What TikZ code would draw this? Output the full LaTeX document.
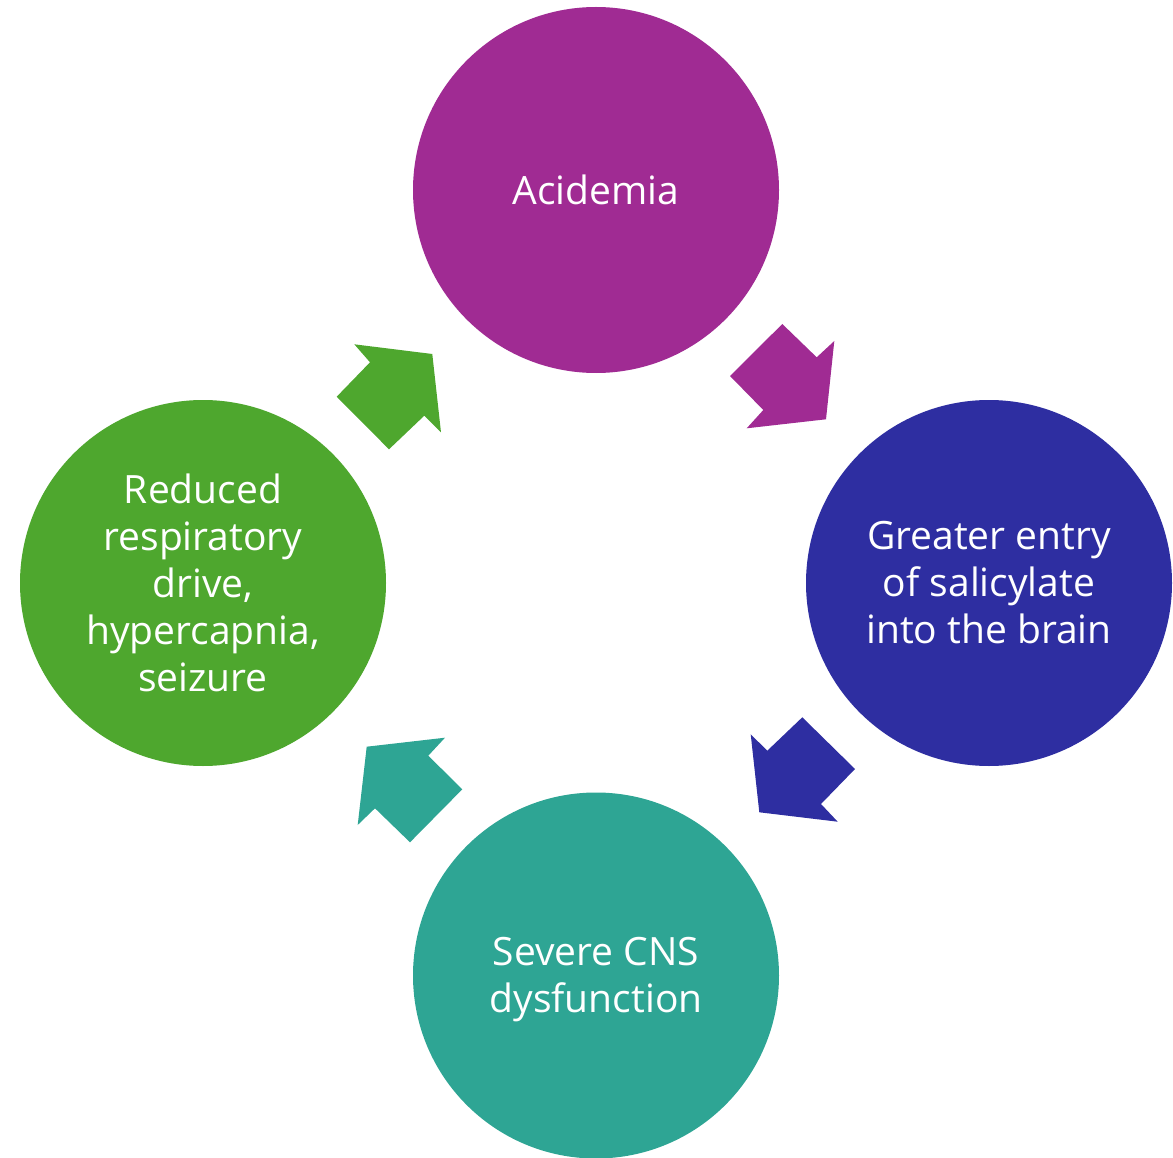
\documentclass[tikz,border=0pt]{standalone}
\usepackage{fontspec}
\setmainfont{Open Sans}
\definecolor{cpurple}{HTML}{A02B93}
\definecolor{cblue}{HTML}{2E2EA1}
\definecolor{cteal}{HTML}{2EA594}
\definecolor{cgreen}{HTML}{4EA72E}
\begin{document}
\begin{tikzpicture}[x=1pt,y=-1pt,
  stage/.style={circle,minimum size=366pt,inner sep=0pt,text=white,align=center,
    font=\fontsize{39}{47}\selectfont},
  stagetext/.style={inner sep=0pt,text=white,align=center,font=\fontsize{39}{47}\selectfont}]
\useasboundingbox (0,0) rectangle (1173,1158);
\node[stage,fill=cpurple] (acid) at (596,190) {Acidemia};
\node[stage,fill=cblue] (entry) at (989,583) {Greater entry\\of salicylate\\into the brain};
\node[stage,fill=cteal] (cns) at (596,975.5) {};
\node[stagetext] (cnstext) at ([yshift=-4pt]cns.center) {Severe CNS\\dysfunction};
\node[stage,fill=cgreen] (resp) at (203,583) {Reduced\\respiratory\\drive,\\hypercapnia,\\seizure};
\fill[cpurple] (782.3,324) -- (816.7,357.3) -- (834.3,341) -- (826,419.3) -- (746.7,428.3) -- (763.3,410) -- (730,376) -- cycle;
\fill[cblue] (802.3,717.3) -- (855,769) -- (821,804) -- (837.7,821.7) -- (759.3,812.3) -- (750.7,734.3) -- (767.3,750.7) -- cycle;
\fill[cteal] (366.7,746.7) -- (445,737.7) -- (428.3,755.7) -- (462.3,789.3) -- (410,842.3) -- (375,808.3) -- (357.7,825) -- cycle;
\fill[cgreen] (354.3,344.3) -- (432.3,354) -- (441,432.3) -- (424.3,415.7) -- (389,449.3) -- (336.7,396.7) -- (370,362.3) -- cycle;
\end{tikzpicture}
\end{document}
